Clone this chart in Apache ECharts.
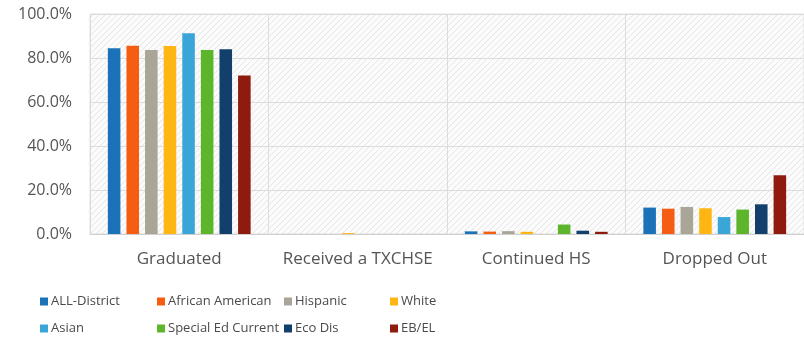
<!DOCTYPE html>
<html>
<head>
<meta charset="utf-8">
<script src="https://cdn.jsdelivr.net/npm/echarts@6/dist/echarts.min.js"></script>
<style>
  html, body { margin: 0; padding: 0; background: #ffffff; }
  #chart { width: 804px; height: 351px; }
</style>
</head>
<body>
<div id="chart"></div>
<script>
// Outcome categories along the x axis
const categories = ['Graduated', 'Received a TXCHSE', 'Continued HS', 'Dropped Out'];

// Student groups (percent of cohort per outcome)
const allDistrict     = [84.4, 0.0, 1.2, 12.0];
const africanAmerican = [85.6, 0.0, 1.1, 11.5];
const hispanic        = [83.6, 0.0, 1.3, 12.3];
const white           = [85.5, 0.4, 1.0, 11.7];
const asian           = [91.2, 0.0, 0.0, 7.7];
const specialEd       = [83.6, 0.0, 4.3, 11.1];
const ecoDis          = [84.0, 0.0, 1.5, 13.5];
const ebEl            = [72.1, 0.0, 1.0, 26.7];

const groupNames = ['ALL-District', 'African American', 'Hispanic', 'White',
                    'Asian', 'Special Ed Current', 'Eco Dis', 'EB/EL'];
const groupValues = [allDistrict, africanAmerican, hispanic, white,
                     asian, specialEd, ecoDis, ebEl];
const groupColors = ['#1b72b8', '#f55d13', '#a9a597', '#ffb612',
                     '#3aa6d8', '#5cb52a', '#123f6c', '#8e1b0e'];

// Y axis tick values (percent)
const yTicks = [0, 20, 40, 60, 80, 100];

// Faint diagonal hatch for the plot background
function makeHatch() {
  const c = document.createElement('canvas');
  c.width = 6; c.height = 6;
  const ctx = c.getContext('2d');
  ctx.fillStyle = '#fbfbfb';
  ctx.fillRect(0, 0, 6, 6);
  ctx.strokeStyle = '#e6e6e6';
  ctx.lineWidth = 1;
  ctx.beginPath();
  ctx.moveTo(-1, 7); ctx.lineTo(7, -1);
  ctx.moveTo(-1, 1); ctx.lineTo(1, -1);
  ctx.moveTo(5, 7); ctx.lineTo(7, 5);
  ctx.stroke();
  return c;
}

const fontFamily = '"Open Sans", "Noto Sans", sans-serif';
const chart = echarts.init(document.getElementById('chart'), null, { renderer: 'canvas' });

// Legend laid out in two rows of four columns
const legendCols = [40, 157, 284, 390];
const legendRows = [295, 322];
const legends = groupNames.map((name, i) => ({
  data: [name],
  left: legendCols[i % 4],
  top: legendRows[Math.floor(i / 4)],
  icon: 'rect',
  itemWidth: 8,
  itemHeight: 8,
  padding: 0,
  selectedMode: false,
  textStyle: { fontFamily, fontSize: 13, color: '#4a4a4a', padding: [0, 0, 0, -2] }
}));

chart.setOption({
  animation: false,
  backgroundColor: '#ffffff',
  textStyle: { fontFamily },
  legend: legends,
  grid: {
    left: 90, right: -6, top: 14, bottom: 117,
    show: true,
    backgroundColor: { image: makeHatch(), repeat: 'repeat' },
    borderColor: '#dedede',
    borderWidth: 1
  },
  xAxis: {
    type: 'category',
    data: categories,
    axisTick: { show: false },
    axisLine: { lineStyle: { color: '#cfcfcf' } },
    axisLabel: { interval: 0, fontFamily, fontSize: 17, color: '#555555', margin: 17 },
    splitLine: { show: true, interval: 0, lineStyle: { color: '#dcdcdc' } }
  },
  yAxis: {
    type: 'value',
    min: yTicks[0],
    max: yTicks[yTicks.length - 1],
    interval: yTicks[1] - yTicks[0],
    axisLine: { show: false },
    axisTick: { show: false },
    axisLabel: {
      fontFamily, fontSize: 16, color: '#555555', margin: 18,
      formatter: v => v.toFixed(1) + '%'
    },
    splitLine: { lineStyle: { color: '#dcdcdc' } }
  },
  series: groupNames.map((name, i) => ({
    name,
    type: 'bar',
    data: groupValues[i],
    barGap: '48%',
    barCategoryGap: '20%',
    itemStyle: { color: groupColors[i] }
  }))
});
</script>
</body>
</html>
